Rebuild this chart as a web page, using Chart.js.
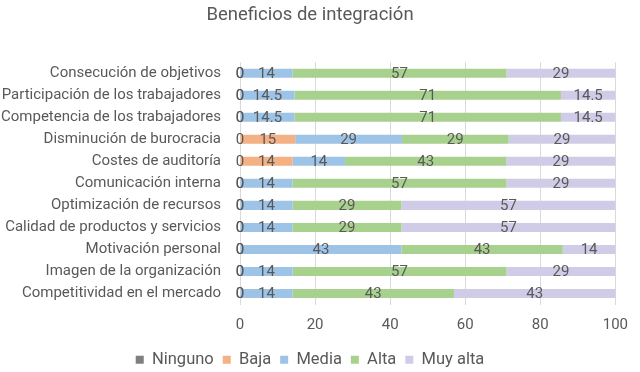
<!DOCTYPE html>
<html>
<head>
<meta charset="utf-8">
<script src="https://cdn.jsdelivr.net/npm/chart.js@4/dist/chart.umd.min.js"></script>
<style>
html,body{margin:0;padding:0;background:#fff;}
#wrap{width:640px;height:372px;}
</style>
</head>
<body>
<div id="wrap"><canvas id="c" width="640" height="372"></canvas></div>
<script>
const categories = [
  "Consecución de objetivos",
  "Participación de los trabajadores",
  "Competencia de los trabajadores",
  "Disminución de burocracia",
  "Costes de auditoría",
  "Comunicación interna",
  "Optimización de recursos",
  "Calidad de productos y servicios",
  "Motivación personal",
  "Imagen de la organización",
  "Competitividad en el mercado"
];
const seriesNames = ["Ninguno", "Baja", "Media", "Alta", "Muy alta"];
const ninguno = [0, 0, 0, 0, 0, 0, 0, 0, 0, 0, 0];
const baja    = [0, 0, 0, 15, 14, 0, 0, 0, 0, 0, 0];
const media   = [14, 14.5, 14.5, 29, 14, 14, 14, 14, 43, 14, 14];
const alta    = [57, 71, 71, 29, 43, 57, 29, 29, 43, 57, 43];
const muyAlta = [29, 14.5, 14.5, 29, 29, 29, 57, 57, 14, 29, 43];
const xTicks  = [0, 20, 40, 60, 80, 100];

const colors = ["#7f7f7f", "#f4b183", "#9dc3e6", "#a9d18e", "#d0cce8"];
const raw = [ninguno, baja, media, alta, muyAlta];
const totals = categories.map((_, i) => raw.reduce((s, arr) => s + arr[i], 0));

const FONT = "Roboto";
const TXT = "#595959";

const labelPlugin = {
  id: "barLabels",
  afterDatasetsDraw(chart) {
    const ctx = chart.ctx;
    ctx.save();
    ctx.font = "15px " + FONT;
    ctx.fillStyle = TXT;
    ctx.textAlign = "center";
    ctx.textBaseline = "middle";
    chart.data.datasets.forEach((ds, di) => {
      const meta = chart.getDatasetMeta(di);
      meta.data.forEach((bar, i) => {
        const v = ds.rawValues[i];
        const cx = (bar.x + bar.base) / 2;
        ctx.fillText(String(v), cx, bar.y + 1);
      });
    });
    ctx.restore();
  }
};

new Chart(document.getElementById("c"), {
  type: "bar",
  data: {
    labels: categories,
    datasets: raw.map((arr, k) => ({
      label: seriesNames[k],
      data: arr.map((v, i) => v / totals[i] * 100),
      rawValues: arr,
      backgroundColor: colors[k],
      borderWidth: 0,
      barPercentage: 0.41,
      categoryPercentage: 1.0
    }))
  },
  options: {
    indexAxis: "y",
    responsive: false,
    animation: false,
    devicePixelRatio: 1,
    layout: { padding: { left: 0, right: 20, top: 0, bottom: -6 } },
    plugins: {
      title: {
        display: true,
        text: "Beneficios de integración",
        color: TXT,
        font: { family: FONT, size: 18.5, weight: "normal" },
        padding: { top: 4, bottom: 36 }
      },
      legend: {
        position: "bottom",
        labels: {
          color: TXT,
          font: { family: FONT, size: 16.5 },
          boxWidth: 8,
          boxHeight: 8,
          padding: 9
        }
      },
      tooltip: { enabled: false }
    },
    scales: {
      x: {
        stacked: true,
        min: 0,
        max: 100,
        afterBuildTicks(axis) { axis.ticks = xTicks.map(v => ({ value: v })); },
        afterFit(axis) { axis.height = 38; },
        grid: { color: "#d9d9d9", drawTicks: false },
        border: { display: false },
        ticks: { color: TXT, font: { family: FONT, size: 15 }, padding: 12 }
      },
      y: {
        stacked: true,
        afterFit(axis) { axis.width = 240; },
        grid: { display: false },
        border: { display: false },
        ticks: { color: TXT, font: { family: FONT, size: 15 }, padding: 11, autoSkip: false }
      }
    }
  },
  plugins: [labelPlugin]
});
</script>
</body>
</html>
